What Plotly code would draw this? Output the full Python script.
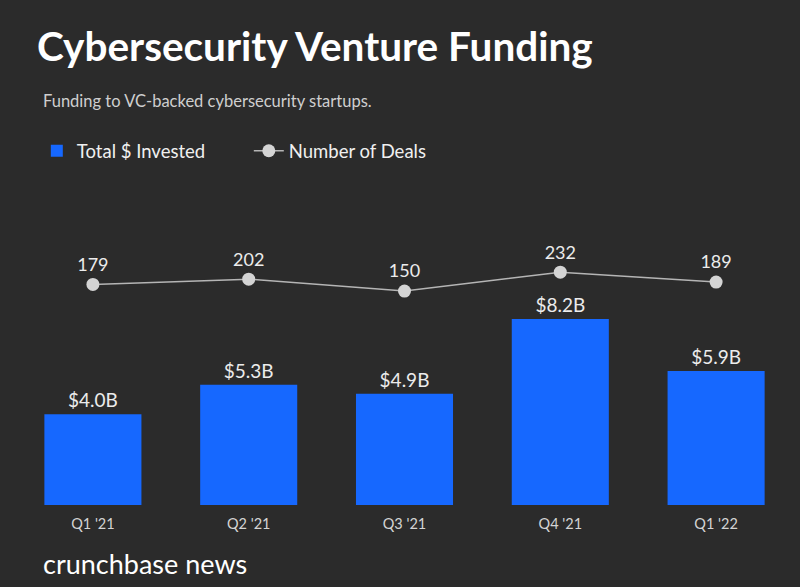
import plotly.graph_objects as go

quarters = ["Q1 '21", "Q2 '21", "Q3 '21", "Q4 '21", "Q1 '22"]
invested = [4.0, 5.3, 4.9, 8.2, 5.9]      # $B
deals    = [179, 202, 150, 232, 189]

bg    = '#2b2b2b'
blue  = '#1668ff'
light = '#d4d4d4'
font  = 'Lato'

fig = go.Figure()

fig.add_trace(go.Bar(
	x = quarters, y = invested, name = 'Total $ Invested',
	marker = dict(color = blue, line = dict(width = 0)),
	texttemplate = '$%{y:.1f}B', textposition = 'outside',
	textfont = dict(family = font, size = 19, color = '#ececec'),
	cliponaxis = False, hoverinfo = 'skip'
))

fig.add_trace(go.Scatter(
	x = quarters, y = deals, name = 'Number of Deals', yaxis = 'y2',
	mode = 'lines+markers+text', text = [str(d) for d in deals],
	textposition = 'top center',
	textfont = dict(family = font, size = 18, color = '#ececec'),
	line = dict(color = '#b5b5b5', width = 1.5),
	marker = dict(color = light, size = 13),
	cliponaxis = False, hoverinfo = 'skip'
))

fig.update_layout(
	width = 800,
	height = 587,
	margin = dict(l = 15, r = 6, t = 200, b = 82),
	paper_bgcolor = bg,
	plot_bgcolor = bg,
	font = dict(family = font, color = light, size = 14),
	bargap = 0.377,
	showlegend = True,
	legend = dict(
		orientation = 'h', x = 0.028, y = 1.16, xanchor = 'left', yanchor = 'middle',
		font = dict(family = font, size = 18.5, color = '#f0f0f0'),
		entrywidth = 167, entrywidthmode = 'pixels',
		bgcolor = 'rgba(0,0,0,0)'
	),
	title = dict(
		text = '<b>Cybersecurity Venture Funding</b>',
		font = dict(family = font, size = 40.5, color = 'white'),
		x = 37 / 800, xref = 'container', xanchor = 'left',
		y = 1 - 47 / 587, yref = 'container', yanchor = 'middle'
	),
	xaxis = dict(
		showline = False, showgrid = False, zeroline = False,
		ticks = '', ticklabelstandoff = 8,
		tickfont = dict(family = font, size = 14.5, color = light),
		range = [-0.5, 4.5]
	),
	yaxis = dict(visible = False, range = [0, 13.44], fixedrange = True),
	yaxis2 = dict(visible = False, overlaying = 'y', range = [-780, 546]),
	annotations = [
		dict(text = 'Funding to VC-backed cybersecurity startups.',
			xref = 'paper', yref = 'paper', x = (41 - 15) / 779, y = 1 + (200 - 101) / 305,
			xanchor = 'left', yanchor = 'middle', showarrow = False,
			font = dict(family = font, size = 16.5, color = '#cfcfcf')),
		dict(text = 'crunchbase news',
			xref = 'paper', yref = 'paper', x = (41 - 15) / 779, y = -(563 - 505) / 305,
			xanchor = 'left', yanchor = 'middle', showarrow = False,
			font = dict(family = font, size = 27, color = 'white'))
	]
)

# page body has an 8px default margin; drop it so the chart sits at 0,0
fig.write_html('out.html', config = {'displayModeBar': False},
	post_script = "document.body.style.margin = '0';")
